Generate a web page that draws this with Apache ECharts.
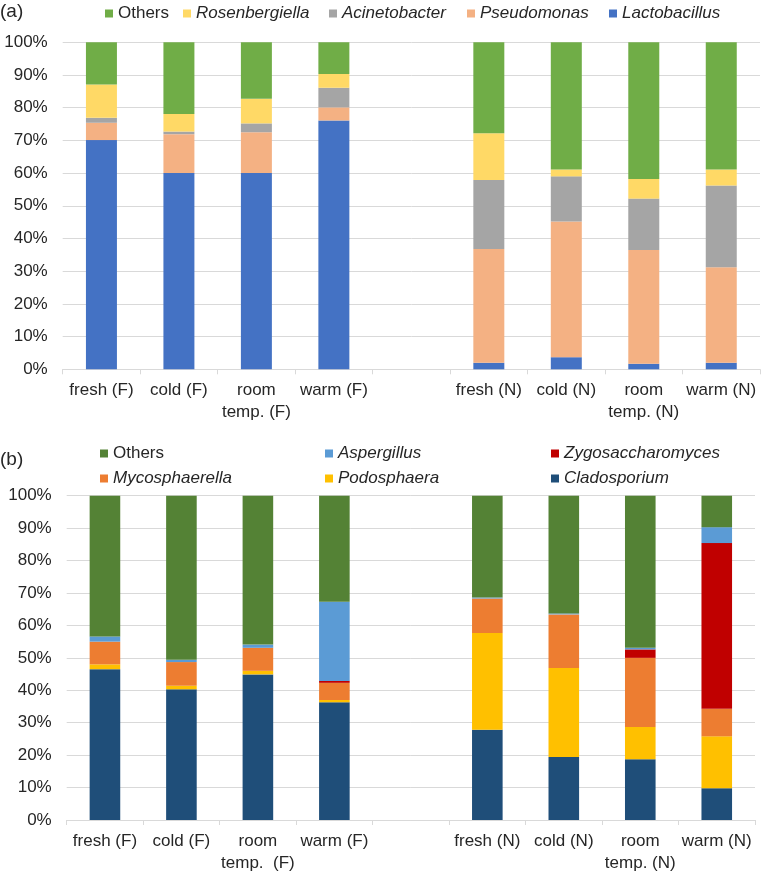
<!DOCTYPE html>
<html>
<head>
<meta charset="utf-8">
<script src="https://cdn.jsdelivr.net/npm/echarts@6/dist/echarts.min.js"></script>
<style>html,body{margin:0;padding:0;background:#fff}#c{width:762px;height:874px}</style>
</head>
<body>
<div id="c"></div>
<script>
// ---- Data ----
const categoriesA = ['fresh (F)', 'cold (F)', 'room\ntemp. (F)', 'warm (F)', '', 'fresh (N)', 'cold (N)', 'room\ntemp. (N)', 'warm (N)'];
const categoriesB = ['fresh (F)', 'cold (F)', 'room\ntemp.  (F)', 'warm (F)', '', 'fresh (N)', 'cold (N)', 'room\ntemp. (N)', 'warm (N)'];
const yTicks = [0, 10, 20, 30, 40, 50, 60, 70, 80, 90, 100];

// (a) bacteria, % per sample (null = empty gap column)
const lactobacillus  = [70.1, 60.0, 60.0, 76.1, null, 2.0, 3.7, 1.7, 2.0];
const pseudomonas    = [5.3, 11.9, 12.5, 4.0, null, 34.8, 41.5, 34.8, 29.2];
const acinetobacter  = [1.5, 0.8, 2.7, 6.0, null, 21.1, 13.8, 15.7, 25.0];
const rosenbergiella = [10.2, 5.4, 7.5, 4.2, null, 14.3, 2.1, 6.0, 4.9];
const othersA        = [12.9, 21.9, 17.3, 9.7, null, 27.8, 38.9, 41.8, 38.9];

// (b) fungi, % per sample
const cladosporium      = [46.5, 40.3, 44.9, 36.3, null, 27.8, 19.4, 18.7, 9.8];
const podosphaera       = [1.5, 1.1, 1.1, 0.7, null, 29.9, 27.5, 10.0, 16.0];
const mycosphaerella    = [7.0, 7.3, 7.1, 5.3, null, 10.6, 16.5, 21.3, 8.5];
const zygosaccharomyces = [0.0, 0.0, 0.0, 0.6, null, 0.0, 0.0, 2.6, 51.1];
const aspergillus       = [1.6, 0.7, 1.0, 24.4, null, 0.3, 0.3, 0.5, 4.9];
const othersB           = [43.4, 50.6, 45.9, 32.7, null, 31.4, 36.3, 46.9, 9.7];

// ---- Styles ----
const FONT = 'Liberation Sans, Arial, sans-serif';
const TXT = '#262626';
const GRID = '#D9D9D9';
const colA = {Lactobacillus:'#4472C4', Pseudomonas:'#F4B183', Acinetobacter:'#A5A5A5', Rosenbergiella:'#FFD966', Others:'#70AD47'};
const colB = {Cladosporium:'#1F4E79', Podosphaera:'#FFC000', Mycosphaerella:'#ED7D31', Zygosaccharomyces:'#C00000', Aspergillus:'#5B9BD5', Others:'#548235'};

const chart = echarts.init(document.getElementById('c'), null, {renderer:'canvas'});

function xAxis(idx, cats) {
  return {
    type:'category', gridIndex: idx, data: cats,
    axisLine:{show:true, lineStyle:{color:GRID, width:1}},
    axisTick:{show:true, length:5, lineStyle:{color:GRID}},
    axisLabel:{interval:0, color:TXT, fontFamily:FONT, fontSize:17, lineHeight:22, margin:10}
  };
}
function yAxis(idx) {
  return {
    type:'value', gridIndex: idx, min: yTicks[0], max: yTicks[yTicks.length-1], interval: yTicks[1]-yTicks[0],
    axisLine:{show:false}, axisTick:{show:false},
    splitLine:{show:true, lineStyle:{color:GRID, width:1}},
    axisLabel:{color:TXT, fontFamily:FONT, fontSize:17, margin:15, formatter:'{value}%'}
  };
}
function bar(name, data, idx, color) {
  return {name, type:'bar', stack: 's'+idx, xAxisIndex: idx, yAxisIndex: idx, data,
    barWidth:'40%', itemStyle:{color}, emphasis:{disabled:true}, animation:false};
}
function leg(name, left, top, color, italic) {
  return {
    left, top, padding:0, itemWidth:8, itemHeight:8, icon:'rect', selectedMode:false,
    data:[{name, itemStyle:{color}, textStyle:{fontStyle: italic ? 'italic' : 'normal'}}],
    textStyle:{color:TXT, fontFamily:FONT, fontSize:17}
  };
}

const option = {
  animation:false,
  title:[
    {text:'(a)', left:0, top:2, padding:0, textStyle:{fontFamily:FONT, fontSize:19, fontWeight:'normal', color:TXT}},
    {text:'(b)', left:0, top:450, padding:0, textStyle:{fontFamily:FONT, fontSize:19, fontWeight:'normal', color:TXT}}
  ],
  legend:[
    leg('Others', 105, 5, colA.Others, false),
    leg('Rosenbergiella', 183, 5, colA.Rosenbergiella, true),
    leg('Acinetobacter', 329, 5, colA.Acinetobacter, true),
    leg('Pseudomonas', 467, 5, colA.Pseudomonas, true),
    leg('Lactobacillus', 609, 5, colA.Lactobacillus, true),
    leg('Others', 100, 445, colB.Others, false),
    leg('Aspergillus', 325, 445, colB.Aspergillus, true),
    leg('Zygosaccharomyces', 551, 445, colB.Zygosaccharomyces, true),
    leg('Mycosphaerella', 100, 470, colB.Mycosphaerella, true),
    leg('Podosphaera', 325, 470, colB.Podosphaera, true),
    leg('Cladosporium', 551, 470, colB.Cladosporium, true)
  ],
  grid:[
    {left:62.7, right:2, top:42.3, height:327},
    {left:66.7, right:7, top:495.7, height:327}
  ],
  xAxis:[xAxis(0, categoriesA), xAxis(1, categoriesB)],
  yAxis:[yAxis(0), yAxis(1)],
  series:[
    bar('Lactobacillus', lactobacillus, 0, colA.Lactobacillus),
    bar('Pseudomonas', pseudomonas, 0, colA.Pseudomonas),
    bar('Acinetobacter', acinetobacter, 0, colA.Acinetobacter),
    bar('Rosenbergiella', rosenbergiella, 0, colA.Rosenbergiella),
    bar('Others', othersA, 0, colA.Others),
    bar('Cladosporium', cladosporium, 1, colB.Cladosporium),
    bar('Podosphaera', podosphaera, 1, colB.Podosphaera),
    bar('Mycosphaerella', mycosphaerella, 1, colB.Mycosphaerella),
    bar('Zygosaccharomyces', zygosaccharomyces, 1, colB.Zygosaccharomyces),
    bar('Aspergillus', aspergillus, 1, colB.Aspergillus),
    bar('Others', othersB, 1, colB.Others)
  ]
};
chart.setOption(option);
</script>
</body>
</html>
